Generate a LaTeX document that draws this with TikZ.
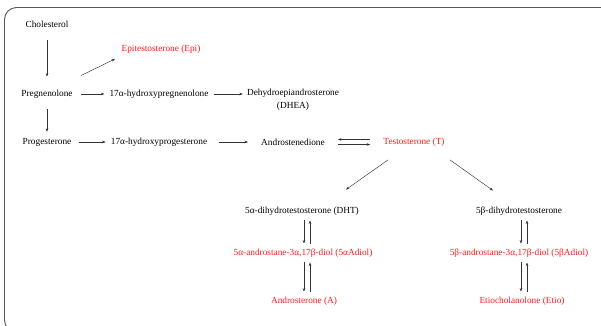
\documentclass[tikz,border=0pt]{standalone}
\usepackage{fontspec}
\setmainfont{Liberation Serif}
\usepackage{xcolor}
\usepackage{tikz}
\usetikzlibrary{positioning,arrows.meta}
\definecolor{hormone}{HTML}{FF1A1A}
\definecolor{pathline}{HTML}{333333}
\definecolor{framegray}{HTML}{555555}

\begin{document}
\begin{tikzpicture}[
        x=1pt, y=-1pt,
        every node/.style={
            text=black,
            align=center,
            inner sep=2pt,
            font=\fontsize{9.3}{12.5}\selectfont
        },
        marker/.style={
            text=hormone
        },
        arrow/.style={
            -{Stealth[length=3.5pt,width=2.6pt]},
            line width=0.45pt,
            color=pathline,
            shorten <=3pt,
            shorten >=3pt
        }
    ]
        \useasboundingbox (0,0) rectangle (601,325);
        \draw[framegray, line width=0.9pt, rounded corners=12pt]
            (640,332) -- (4.5,332) -- (4.5,7.5) -- (640,7.5);

        % upper pathway
        \node (chol) at (47,24) {Cholesterol};
        \node[marker] (epi) at (161,49) {Epitestosterone (Epi)};
        \node (preg) at (47,94) {Pregnenolone};
        \node (hpreg) at (159,94) {17α-hydroxypregnenolone};
        \node[anchor=north] (dhea) at (293,87) {Dehydroepiandrosterone\\(DHEA)};
        \node (prog) at (47,142) {Progesterone};
        \node (hprog) at (159,142) {17α-hydroxyprogesterone};
        \node (andro) at (293,142) {Androstenedione};
        \node[marker] (testo) at (414,142) {Testosterone (T)};

        % 5-alpha branch
        \node (adht) at (302,211) {5α-dihydrotestosterone (DHT)};
        \node[marker] (adiol) at (303,253) {5α-androstane-3α,17β-diol (5αAdiol)};
        \node[marker] (andros) at (304,301) {Androsterone (A)};

        % 5-beta branch
        \node (bdht) at (519,211) {5β-dihydrotestosterone};
        \node[marker] (bdiol) at (519,253) {5β-androstane-3α,17β-diol (5βAdiol)};
        \node[marker] (etio) at (522,301) {Etiocholanolone (Etio)};

        \draw[arrow, shorten <=11pt, shorten >=11pt] (chol) -- (preg);
        \draw[arrow, shorten <=0pt, shorten >=0pt]
            ([xshift=34pt,yshift=12pt]preg.north) -- ([xshift=-46pt,yshift=-3.5pt]epi.south);
        \draw[arrow, shorten <=6pt] (preg) -- (hpreg);
        \draw[arrow, shorten >=2pt] (hpreg) -- (hpreg -| dhea.west);
        \draw[arrow, shorten <=9pt, shorten >=4pt] (preg) -- (prog);
        \draw[arrow, shorten <=6pt] (prog) -- (hprog);
        \draw[arrow, shorten <=10pt, shorten >=11pt] (hprog) -- (andro);
        \draw[arrow, shorten <=11pt, shorten >=11pt]
            ([yshift=2.5pt]testo.west) -- ([yshift=2.5pt]andro.east);
        \draw[arrow, shorten <=11pt, shorten >=11pt]
            ([yshift=-2.5pt]andro.east) -- ([yshift=-2.5pt]testo.west);

        \draw[arrow, shorten <=0pt, shorten >=0pt]
            ([xshift=-26pt,yshift=-11.5pt]testo.south) -- ([xshift=44pt,yshift=15pt]adht.north);
        \draw[arrow, shorten <=0pt, shorten >=0pt]
            ([xshift=36pt,yshift=-11.5pt]testo.south) -- ([xshift=-26pt,yshift=14pt]bdht.north);

        % reversible steps
        \draw[arrow] ([xshift=2pt]adht.south) -- ([xshift=1pt]adiol.north);
        \draw[arrow] ([xshift=7pt]adiol.north) -- ([xshift=8pt]adht.south);
        \draw[arrow] ([xshift=1pt]adiol.south) -- ([xshift=0pt]andros.north);
        \draw[arrow] ([xshift=6pt]andros.north) -- ([xshift=7pt]adiol.south);
        \draw[arrow] ([xshift=2pt]bdht.south) -- ([xshift=2pt]bdiol.north);
        \draw[arrow] ([xshift=8pt]bdiol.north) -- ([xshift=8pt]bdht.south);
        \draw[arrow] ([xshift=2pt]bdiol.south) -- ([xshift=-1pt]etio.north);
        \draw[arrow] ([xshift=5pt]etio.north) -- ([xshift=8pt]bdiol.south);
    \end{tikzpicture}
\end{document}
